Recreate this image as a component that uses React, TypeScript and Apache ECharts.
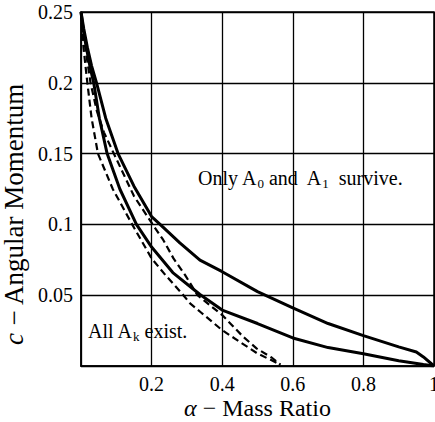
import React, { useEffect, useRef } from "react";
import * as echarts from "echarts";

const upperSolidX = [0, 0.008, 0.018, 0.03, 0.044, 0.07, 0.105, 0.15, 0.2, 0.224, 0.28, 0.337, 0.4, 0.5, 0.6, 0.7, 0.8, 0.9, 0.95, 0.97, 1];
const upperSolidY = [0.25, 0.238, 0.225, 0.212, 0.2, 0.175, 0.15, 0.127, 0.1055, 0.1, 0.087, 0.0748, 0.0666, 0.0525, 0.041, 0.03, 0.0215, 0.0135, 0.0099, 0.0064, 0];

const lowerSolidX = [0, 0.006, 0.015, 0.025, 0.036, 0.052, 0.074, 0.11, 0.157, 0.2, 0.26, 0.337, 0.4, 0.5, 0.6, 0.7, 0.8, 0.9, 0.97, 1];
const lowerSolidY = [0.25, 0.238, 0.225, 0.212, 0.2, 0.175, 0.15, 0.125, 0.1, 0.084, 0.066, 0.0505, 0.0395, 0.03, 0.0198, 0.013, 0.0087, 0.0037, 0.001, 0];

const upperDashedX = [0, 0.012, 0.027, 0.045, 0.065, 0.093, 0.15, 0.203, 0.233, 0.262, 0.295, 0.33, 0.4, 0.46, 0.498, 0.54, 0.565];
const upperDashedY = [0.25, 0.225, 0.2, 0.18, 0.165, 0.15, 0.12, 0.1, 0.089, 0.076, 0.0642, 0.05, 0.036, 0.0205, 0.0123, 0.006, 0.001];

const lowerDashedX = [0, 0.007, 0.018, 0.03, 0.048, 0.09, 0.145, 0.2, 0.24, 0.29, 0.309, 0.34, 0.4, 0.45, 0.5, 0.54, 0.565];
const lowerDashedY = [0.25, 0.225, 0.2, 0.175, 0.15, 0.125, 0.1, 0.076, 0.064, 0.05, 0.0442, 0.0378, 0.0253, 0.017, 0.0088, 0.004, 0.001];

const xTickLabels = ["", "0.2", "0.4", "0.6", "0.8", "1"];
const yTickLabels = ["", "0.05", "0.1", "0.15", "0.2", "0.25"];

const FONT = "'Liberation Serif', 'DejaVu Serif', serif";

function pairs(xs: number[], ys: number[]) {
  return xs.map((x, i) => [x, ys[i]]);
}

export default function App() {
  const ref = useRef<HTMLDivElement>(null);
  useEffect(() => {
    if (!ref.current) return;
    const chart = echarts.init(ref.current, null, { renderer: "svg" });
    const solid = { color: "#000", width: 3, type: "solid" as const };
    const dashed = { color: "#000", width: 2.2, type: [7, 4] as any };
    const textRich = {
      n: { fontFamily: FONT, fontSize: 20, lineHeight: 22, color: "#000" },
      s: { fontFamily: FONT, fontSize: 13, lineHeight: 13, padding: [10, 0, 0, 0], color: "#000" },
    };
    chart.setOption({
      animation: false,
      backgroundColor: "#fff",
      grid: {
        left: 81,
        top: 12,
        right: 1,
        bottom: 56,
        show: true,
        borderColor: "#000",
        borderWidth: 1.5,
        containLabel: false,
        outerBoundsMode: "none",
      },
      xAxis: {
        type: "value",
        min: 0,
        max: 1,
        interval: 0.2,
        axisLine: { show: true, lineStyle: { color: "#000", width: 1.5 } },
        axisTick: { show: false },
        splitLine: { show: true, lineStyle: { color: "#000", width: 1.3 } },
        axisLabel: {
          color: "#000",
          fontFamily: FONT,
          fontSize: 20,
          margin: 8,
          formatter: (v: number) => xTickLabels[Math.round(v / 0.2)] ?? "",
        },
        name: "{i|α} − Mass Ratio",
        nameLocation: "middle",
        nameGap: 30,
        nameMoveOverlap: false,
        nameTextStyle: {
          color: "#000",
          fontFamily: FONT,
          fontSize: 24,
          lineHeight: 24,
          rich: { i: { fontStyle: "italic", fontFamily: FONT, fontSize: 24, lineHeight: 24, color: "#000" } },
        },
      },
      yAxis: {
        type: "value",
        min: 0,
        max: 0.25,
        interval: 0.05,
        axisLine: { show: true, lineStyle: { color: "#000", width: 1.5 } },
        axisTick: { show: false },
        splitLine: { show: true, lineStyle: { color: "#000", width: 1.3 } },
        axisLabel: {
          color: "#000",
          fontFamily: FONT,
          fontSize: 20,
          margin: 8,
          formatter: (v: number) => yTickLabels[Math.round(v / 0.05)] ?? "",
        },
        name: "{i|c} − Angular Momentum",
        nameLocation: "middle",
        nameRotate: 90,
        nameGap: 40,
        nameTextStyle: {
          color: "#000",
          fontFamily: FONT,
          fontSize: 27,
          lineHeight: 27,
          padding: [0, 50, 0, 0],
          rich: { i: { fontStyle: "italic", fontFamily: FONT, fontSize: 27, lineHeight: 27, color: "#000" } },
        },
      },
      series: [
        { type: "line", data: pairs(upperSolidX, upperSolidY), showSymbol: false, lineStyle: solid, smooth: false },
        { type: "line", data: pairs(lowerSolidX, lowerSolidY), showSymbol: false, lineStyle: solid, smooth: false },
        { type: "line", data: pairs(upperDashedX, upperDashedY), showSymbol: false, lineStyle: dashed, smooth: false },
        { type: "line", data: pairs(lowerDashedX, lowerDashedY), showSymbol: false, lineStyle: dashed, smooth: false },
      ],
      graphic: [
        {
          type: "text",
          x: 198,
          y: 178,
          style: {
            text: "{n|Only A}{s|0}{n| and  A}{s|1}{n|  survive.}",
            verticalAlign: "middle",
            align: "left",
            fill: "#000",
            rich: textRich,
          },
        },
        {
          type: "text",
          x: 88,
          y: 331,
          style: {
            text: "{n|All A}{s|k}{n| exist.}",
            verticalAlign: "middle",
            align: "left",
            fill: "#000",
            rich: textRich,
          },
        },
      ],
    });
    return () => chart.dispose();
  }, []);
  return <div ref={ref} style={{ position: "fixed", left: 0, top: 0, width: 435, height: 422 }} />;
}
